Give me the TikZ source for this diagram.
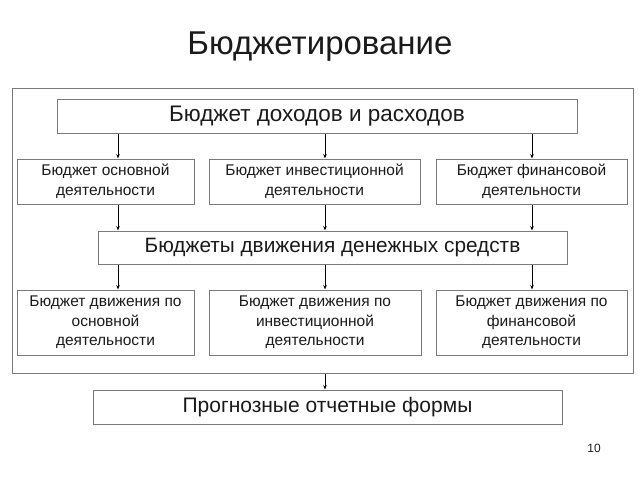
\documentclass[tikz,border=0pt]{standalone}
\usepackage{fontspec}
\setmainfont{Liberation Sans}
\usetikzlibrary{arrows.meta}
\definecolor{boxgray}{HTML}{7A7A7A}
\definecolor{txt}{HTML}{1A1A1A}
\begin{document}
\begin{tikzpicture}[x=1pt,y=-1pt,
  box/.style={draw=boxgray, line width=1pt, inner sep=0pt, align=center, text=txt},
  small/.style={font=\fontsize{15.5}{19.5}\selectfont},
  arr/.style={-{Stealth[length=4.5pt,width=3.5pt]}, line width=0.7pt, draw=black}]
\useasboundingbox (0,0) rectangle (640,480);
\node[text=txt, font=\fontsize{33}{38}\selectfont] (title) at (320,47) {Бюджетирование};
\node[box, minimum width=621pt, minimum height=285pt] (outer) at (322.5,230.5) {};
\node[box, minimum width=520pt, minimum height=34pt, font=\fontsize{22.5}{26}\selectfont] (top) at (317,116) {Бюджет доходов и расходов};
\node[box, small, minimum width=177pt, minimum height=45pt] (r2a) at (105.5,181.5) {Бюджет основной\\деятельности};
\node[box, small, minimum width=211pt, minimum height=45pt] (r2b) at (314.5,181.5) {Бюджет инвестиционной\\деятельности};
\node[box, small, minimum width=191pt, minimum height=45pt] (r2c) at (531.5,181.5) {Бюджет финансовой\\деятельности};
\node[box, minimum width=469pt, minimum height=33pt, font=\fontsize{20.8}{24}\selectfont] (cash) at (332.5,247.5) {Бюджеты движения денежных средств};
\node[box, small, minimum width=177pt, minimum height=65pt] (r4a) at (105.5,322.5) {Бюджет движения по\\основной\\деятельности};
\node[box, small, minimum width=212pt, minimum height=65pt] (r4b) at (315,322.5) {Бюджет движения по\\инвестиционной\\деятельности};
\node[box, small, minimum width=191pt, minimum height=65pt] (r4c) at (531.5,322.5) {Бюджет движения по\\финансовой\\деятельности};
\node[box, minimum width=469pt, minimum height=34pt, font=\fontsize{21}{24}\selectfont] (bottom) at (327.5,407) {Прогнозные отчетные формы};
\node[text=txt, font=\fontsize{12}{14}\selectfont] (pg) at (594,448) {10};
\coordinate (xa) at (118,0);
\coordinate (xb) at (325,0);
\coordinate (xc) at (532,0);
\foreach \x in {xa,xb,xc}{
  \draw[arr] (top.south -| \x) -- (r2a.north -| \x);
  \draw[arr] (r2a.south -| \x) -- (cash.north -| \x);
  \draw[arr] (cash.south -| \x) -- (r4a.north -| \x);
}
\draw[arr] (outer.south -| xb) -- (bottom.north -| xb);
\end{tikzpicture}
\end{document}
